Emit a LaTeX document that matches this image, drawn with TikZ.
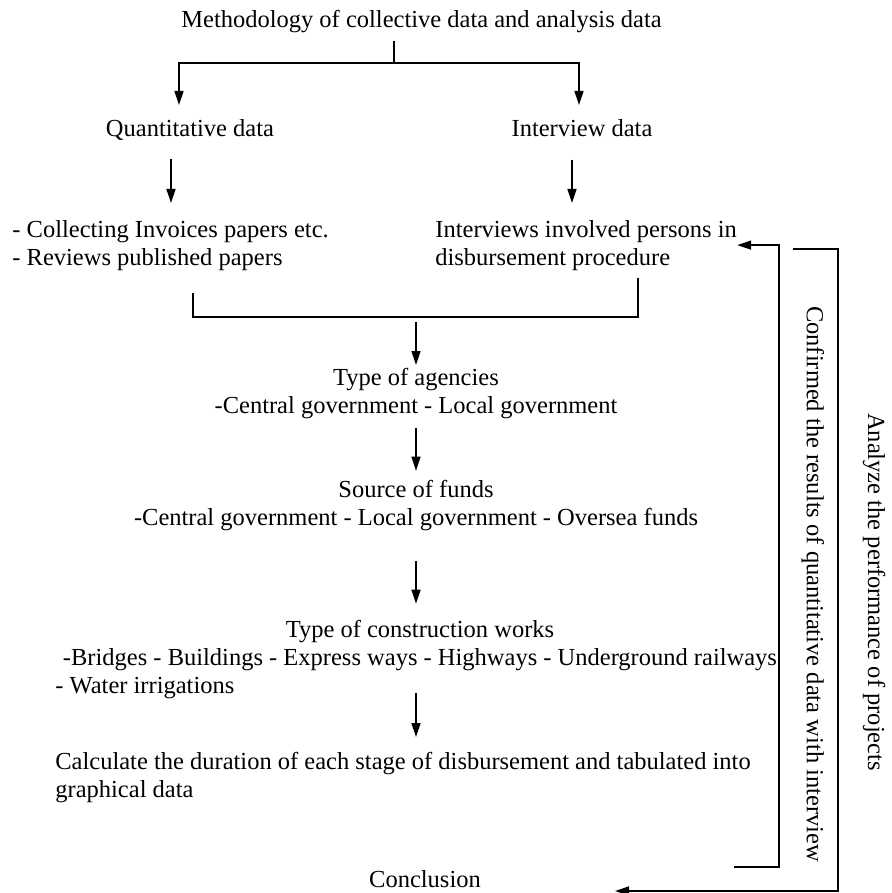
\documentclass[tikz,border=0pt]{standalone}
\usepackage{fontspec}
\setmainfont{Liberation Serif}
\usetikzlibrary{arrows.meta}

\tikzset{
  txt/.style={inner sep=0pt, font=\fontsize{12.25}{14}\selectfont},
  flow/.style={line width=0.7pt, -{Triangle[length=7pt,width=4.5pt]}},
  link/.style={line width=0.7pt}
}

\begin{document}
\begin{tikzpicture}[x=0.5pt, y=-0.5pt]
  \useasboundingbox (0,0) rectangle (891,893);
  % text blocks (multi-line ones sit on their last line)
  \node[txt, anchor=base] (title) at (421.5,28) {Methodology of collective data and analysis data};
  \node[txt, anchor=base] (quant) at (190,137) {Quantitative data};
  \node[txt, anchor=base] (intv) at (582,137) {Interview data};
  \node[txt, anchor=base west, align=left] (qlist) at (12,265) {- Collecting Invoices papers etc.\\- Reviews published papers};
  \node[txt, anchor=base west, align=left] (ilist) at (435,265) {Interviews involved persons in\\disbursement procedure};
  \node[txt, anchor=base, align=center] (types) at (416,413) {Type of agencies\\-Central government - Local government};
  \node[txt, anchor=base, align=center] (funds) at (416,525) {Source of funds\\-Central government - Local government - Oversea funds};
  \node[txt, anchor=base, align=center] (works) at (420,665) {Type of construction works\\-Bridges - Buildings - Express ways - Highways - Underground railways};
  \node[txt, anchor=base west] (water) at (55,693) {- Water irrigations};
  \node[txt, anchor=base west, align=left] (calc) at (55,797) {Calculate the duration of each stage of disbursement and tabulated into\\graphical data};
  \node[txt, anchor=base] (concl) at (425,887) {Conclusion};
  \node[txt, rotate=-90] (confirm) at (813,584) {Confirmed the results of quantitative data with interview};
  \node[txt, rotate=-90] (analyze) at (874,592) {Analyze the performance of projects};

  % split of the title
  \coordinate (stub) at (394,41);
  \coordinate (qin) at (179,105);
  \coordinate (iin) at (579,105);
  \draw[flow] (stub) -- ++(0,22) -| (qin);
  \draw[flow] (stub) ++(0,22) -| (iin);
  \draw[flow] (quant.base) ++(-19,22) -- ++(0,44);
  \draw[flow] (intv.base) ++(-10,23) -- ++(0,43);

  % joining bracket
  \coordinate (jl) at (193,293);
  \coordinate (jr) at (638,278);
  \coordinate (join) at (416,317);
  \draw[link] (jl) |- (join) -| (jr);
  \draw[flow] (join) ++(0,5) -- ++(0,43);
  \draw[flow] (types.south) ++(0,9) -- ++(0,43);
  \draw[flow] (funds.south) ++(0,30) -- ++(0,43);
  \draw[flow] (water.base -| join) -- ++(0,44);

  % feedback loops
  \coordinate (fb1) at (734,867);
  \coordinate (fb2) at (793,249);
  \coordinate (ctip) at (615,891);
  \draw[flow] (fb1) -- ++(45,0) |- (ilist.east);
  \draw[flow] (fb2) -- ++(45,0) |- (ctip);
\end{tikzpicture}
\end{document}
